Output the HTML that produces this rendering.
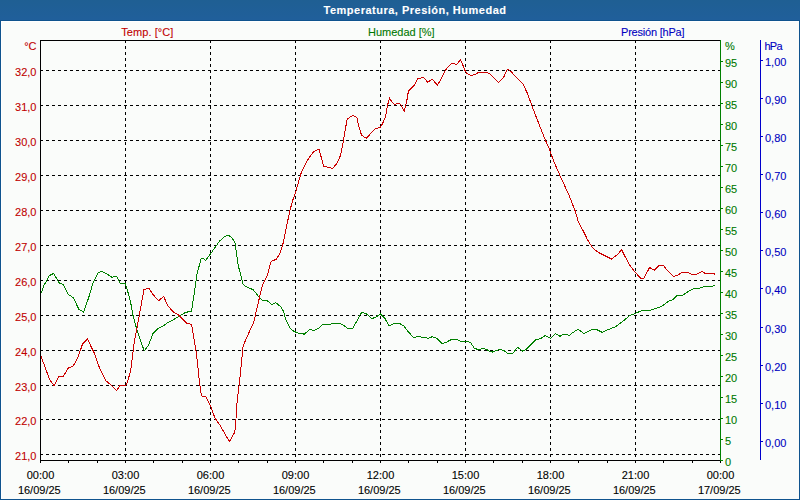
<!DOCTYPE html>
<html><head><meta charset="utf-8">
<style>
html,body{margin:0;padding:0;width:800px;height:500px;overflow:hidden;background:#FAFCFA;}
svg{display:block;}
text{font-family:"Liberation Sans",sans-serif;font-size:11px;stroke-width:0.1px;paint-order:stroke;}
</style></head><body>
<svg width="800" height="500" viewBox="0 0 800 500">
<g shape-rendering="crispEdges">
<rect x="0" y="0" width="800" height="500" fill="#FAFCFA"/>
<rect x="1" y="21" width="798" height="478" fill="none" stroke="#FFFFFF" stroke-width="1" transform="translate(0.5,0.5)" />
<defs><linearGradient id="tg" x1="0" y1="0" x2="0" y2="1"><stop offset="0" stop-color="#1F5F93"/><stop offset="1" stop-color="#205F9B"/></linearGradient></defs>
<rect x="0" y="0" width="800" height="20" fill="url(#tg)"/>
<rect x="0" y="20" width="800" height="1" fill="#0F538E"/>
<rect x="0" y="20" width="1" height="480" fill="#0F538E"/>
<rect x="799" y="20" width="1" height="480" fill="#0F538E"/>
<rect x="0" y="499" width="800" height="1" fill="#0F538E"/>
<line x1="40" y1="454.5" x2="720" y2="454.5" stroke="#000" stroke-dasharray="3 3"/>
<line x1="40" y1="419.5" x2="720" y2="419.5" stroke="#000" stroke-dasharray="3 3"/>
<line x1="40" y1="385.5" x2="720" y2="385.5" stroke="#000" stroke-dasharray="3 3"/>
<line x1="40" y1="350.5" x2="720" y2="350.5" stroke="#000" stroke-dasharray="3 3"/>
<line x1="40" y1="315.5" x2="720" y2="315.5" stroke="#000" stroke-dasharray="3 3"/>
<line x1="40" y1="280.5" x2="720" y2="280.5" stroke="#000" stroke-dasharray="3 3"/>
<line x1="40" y1="245.5" x2="720" y2="245.5" stroke="#000" stroke-dasharray="3 3"/>
<line x1="40" y1="210.5" x2="720" y2="210.5" stroke="#000" stroke-dasharray="3 3"/>
<line x1="40" y1="175.5" x2="720" y2="175.5" stroke="#000" stroke-dasharray="3 3"/>
<line x1="40" y1="140.5" x2="720" y2="140.5" stroke="#000" stroke-dasharray="3 3"/>
<line x1="40" y1="105.5" x2="720" y2="105.5" stroke="#000" stroke-dasharray="3 3"/>
<line x1="40" y1="70.5" x2="720" y2="70.5" stroke="#000" stroke-dasharray="3 3"/>
<line x1="125.5" y1="40" x2="125.5" y2="460" stroke="#000" stroke-dasharray="3 3"/>
<line x1="210.5" y1="40" x2="210.5" y2="460" stroke="#000" stroke-dasharray="3 3"/>
<line x1="295.5" y1="40" x2="295.5" y2="460" stroke="#000" stroke-dasharray="3 3"/>
<line x1="380.5" y1="40" x2="380.5" y2="460" stroke="#000" stroke-dasharray="3 3"/>
<line x1="465.5" y1="40" x2="465.5" y2="460" stroke="#000" stroke-dasharray="3 3"/>
<line x1="550.5" y1="40" x2="550.5" y2="460" stroke="#000" stroke-dasharray="3 3"/>
<line x1="635.5" y1="40" x2="635.5" y2="460" stroke="#000" stroke-dasharray="3 3"/>
<line x1="40" y1="40.5" x2="720" y2="40.5" stroke="#000"/>
<line x1="40.5" y1="40" x2="40.5" y2="463" stroke="#000"/>
<line x1="40" y1="460.5" x2="721" y2="460.5" stroke="#000"/>
<line x1="40.5" y1="460" x2="40.5" y2="463" stroke="#000"/>
<line x1="68.5" y1="460" x2="68.5" y2="463" stroke="#000"/>
<line x1="97.5" y1="460" x2="97.5" y2="463" stroke="#000"/>
<line x1="125.5" y1="460" x2="125.5" y2="463" stroke="#000"/>
<line x1="153.5" y1="460" x2="153.5" y2="463" stroke="#000"/>
<line x1="182.5" y1="460" x2="182.5" y2="463" stroke="#000"/>
<line x1="210.5" y1="460" x2="210.5" y2="463" stroke="#000"/>
<line x1="238.5" y1="460" x2="238.5" y2="463" stroke="#000"/>
<line x1="267.5" y1="460" x2="267.5" y2="463" stroke="#000"/>
<line x1="295.5" y1="460" x2="295.5" y2="463" stroke="#000"/>
<line x1="323.5" y1="460" x2="323.5" y2="463" stroke="#000"/>
<line x1="352.5" y1="460" x2="352.5" y2="463" stroke="#000"/>
<line x1="380.5" y1="460" x2="380.5" y2="463" stroke="#000"/>
<line x1="408.5" y1="460" x2="408.5" y2="463" stroke="#000"/>
<line x1="437.5" y1="460" x2="437.5" y2="463" stroke="#000"/>
<line x1="465.5" y1="460" x2="465.5" y2="463" stroke="#000"/>
<line x1="493.5" y1="460" x2="493.5" y2="463" stroke="#000"/>
<line x1="522.5" y1="460" x2="522.5" y2="463" stroke="#000"/>
<line x1="550.5" y1="460" x2="550.5" y2="463" stroke="#000"/>
<line x1="578.5" y1="460" x2="578.5" y2="463" stroke="#000"/>
<line x1="607.5" y1="460" x2="607.5" y2="463" stroke="#000"/>
<line x1="635.5" y1="460" x2="635.5" y2="463" stroke="#000"/>
<line x1="663.5" y1="460" x2="663.5" y2="463" stroke="#000"/>
<line x1="692.5" y1="460" x2="692.5" y2="463" stroke="#000"/>
<line x1="720.5" y1="460" x2="720.5" y2="463" stroke="#000"/>
<line x1="720.5" y1="40" x2="720.5" y2="461" stroke="#008000"/>
<line x1="721" y1="460.5" x2="723" y2="460.5" stroke="#008000"/>
<line x1="721" y1="439.5" x2="723" y2="439.5" stroke="#008000"/>
<line x1="721" y1="418.5" x2="723" y2="418.5" stroke="#008000"/>
<line x1="721" y1="397.5" x2="723" y2="397.5" stroke="#008000"/>
<line x1="721" y1="376.5" x2="723" y2="376.5" stroke="#008000"/>
<line x1="721" y1="355.5" x2="723" y2="355.5" stroke="#008000"/>
<line x1="721" y1="334.5" x2="723" y2="334.5" stroke="#008000"/>
<line x1="721" y1="313.5" x2="723" y2="313.5" stroke="#008000"/>
<line x1="721" y1="292.5" x2="723" y2="292.5" stroke="#008000"/>
<line x1="721" y1="271.5" x2="723" y2="271.5" stroke="#008000"/>
<line x1="721" y1="250.5" x2="723" y2="250.5" stroke="#008000"/>
<line x1="721" y1="229.5" x2="723" y2="229.5" stroke="#008000"/>
<line x1="721" y1="208.5" x2="723" y2="208.5" stroke="#008000"/>
<line x1="721" y1="187.5" x2="723" y2="187.5" stroke="#008000"/>
<line x1="721" y1="166.5" x2="723" y2="166.5" stroke="#008000"/>
<line x1="721" y1="145.5" x2="723" y2="145.5" stroke="#008000"/>
<line x1="721" y1="124.5" x2="723" y2="124.5" stroke="#008000"/>
<line x1="721" y1="103.5" x2="723" y2="103.5" stroke="#008000"/>
<line x1="721" y1="82.5" x2="723" y2="82.5" stroke="#008000"/>
<line x1="721" y1="61.5" x2="723" y2="61.5" stroke="#008000"/>
<line x1="760.5" y1="40" x2="760.5" y2="460" stroke="#0000CC"/>
<line x1="761" y1="441.5" x2="763" y2="441.5" stroke="#0000CC"/>
<line x1="761" y1="403.5" x2="763" y2="403.5" stroke="#0000CC"/>
<line x1="761" y1="365.5" x2="763" y2="365.5" stroke="#0000CC"/>
<line x1="761" y1="327.5" x2="763" y2="327.5" stroke="#0000CC"/>
<line x1="761" y1="288.5" x2="763" y2="288.5" stroke="#0000CC"/>
<line x1="761" y1="250.5" x2="763" y2="250.5" stroke="#0000CC"/>
<line x1="761" y1="212.5" x2="763" y2="212.5" stroke="#0000CC"/>
<line x1="761" y1="174.5" x2="763" y2="174.5" stroke="#0000CC"/>
<line x1="761" y1="136.5" x2="763" y2="136.5" stroke="#0000CC"/>
<line x1="761" y1="98.5" x2="763" y2="98.5" stroke="#0000CC"/>
<line x1="761" y1="60.5" x2="763" y2="60.5" stroke="#0000CC"/>
<polyline points="41.2,293.2 43.4,286.4 46.4,281.0 49.4,275.6 53.6,273.4 59.0,282.8 63.2,284.6 68.0,294.2 73.4,297.8 78.8,309.2 83.6,312.2 89.2,296.0 92.8,283.4 98.2,272.6 101.8,271.4 106.0,273.4 112.0,277.4 115.0,276.2 116.8,276.6 119.8,282.8 121.0,283.4 125.2,283.4 127.0,288.8 130.6,302.0 132.7,314.3 136.0,326.4 139.8,338.5 144.2,350.8 148.6,345.0 153.0,333.5 158.0,328.6 163.6,325.6 168.1,322.4 172.6,320.2 178.0,317.0 181.6,314.8 185.2,312.5 191.1,311.2 192.0,308.5 192.9,301.7 193.8,296.3 194.7,290.0 197.0,274.2 201.2,258.1 202.9,258.1 205.4,260.5 211.0,253.2 219.4,241.3 224.3,236.7 228.5,235.3 231.3,237.1 234.8,242.0 238.3,265.8 243.2,284.7 246.0,286.5 250.2,288.5 253.2,289.7 259.2,297.2 262.2,300.2 266.7,300.2 272.0,304.7 275.7,302.5 281.0,307.0 283.5,311.3 285.3,318.0 287.5,323.4 290.2,328.4 292.9,330.6 296.1,332.4 299.2,333.5 302.4,333.5 304.2,334.4 309.6,329.3 313.6,330.6 318.6,328.4 322.6,324.5 329.8,324.5 332.1,323.6 339.3,323.6 342.3,324.3 347.7,328.4 352.6,328.4 357.6,319.8 361.6,312.4 366.1,313.5 371.5,318.5 375.1,317.6 380.5,314.0 385.0,318.5 389.1,326.1 394.1,323.6 399.5,323.5 403.6,325.8 408.1,331.6 413.5,337.5 417.5,336.6 421.1,337.0 425.6,337.5 427.9,338.6 432.4,336.6 437.3,338.6 441.8,343.5 445.9,342.4 451.8,339.3 457.2,339.3 460.4,341.3 464.9,341.3 470.3,342.2 474.3,348.3 478.8,349.7 483.3,348.5 486.0,349.2 489.2,351.0 492.8,352.1 495.0,351.0 499.5,349.4 504.0,350.6 507.7,353.3 512.7,353.3 517.6,347.4 522.6,351.0 526.2,349.4 536.1,339.5 540.6,338.6 545.1,335.7 550.5,338.4 555.5,333.5 560.0,336.4 563.6,334.2 566.3,334.2 569.0,335.6 573.1,332.4 578.0,329.3 583.9,333.5 587.9,331.5 592.9,329.3 596.0,329.3 602.3,332.4 607.7,329.7 611.4,328.4 615.9,326.6 619.0,324.0 624.0,320.5 629.0,316.0 635.0,313.5 642.0,310.5 650.0,310.5 655.0,308.5 659.0,307.5 663.0,305.5 668.0,301.6 672.8,299.6 677.2,295.4 682.4,295.4 688.0,291.6 692.8,289.2 694.8,288.4 698.8,288.4 704.0,286.8 712.0,286.4 714.4,285.2" fill="none" stroke="#008000" stroke-width="1"/>
<polyline points="41.0,356.5 44.7,366.0 49.4,379.0 54.2,386.0 58.9,376.0 63.6,376.0 68.3,368.0 73.1,366.0 77.8,358.0 82.5,344.0 87.4,339.0 94.1,352.7 99.9,369.0 105.8,380.6 110.3,384.5 116.6,390.4 120.0,385.6 124.0,386.0 126.6,384.5 130.5,371.6 134.3,342.3 144.0,289.5 148.9,288.4 153.1,294.7 158.7,300.7 163.6,296.5 168.1,306.2 173.5,312.0 177.6,314.3 181.2,317.5 186.6,323.3 191.5,324.2 196.0,351.0 197.8,365.4 199.6,383.4 201.4,396.0 205.5,396.2 210.8,406.8 215.0,418.2 219.8,424.8 229.4,441.6 234.8,432.0 236.0,418.8 236.6,406.8 238.4,390.0 239.2,385.2 243.2,345.5 253.7,322.2 262.2,286.0 267.5,274.7 270.5,262.7 272.0,261.2 276.5,259.0 279.5,254.2 282.5,246.0 290.0,210.0 293.0,199.5 295.5,192.8 300.8,174.0 304.7,165.5 308.6,158.4 313.8,151.6 319.0,149.0 323.6,166.2 327.5,167.2 332.7,168.5 337.2,162.9 340.6,155.2 343.0,143.2 345.4,128.8 347.2,119.2 349.0,117.8 353.2,115.4 356.8,117.4 359.2,127.6 361.6,135.4 366.4,138.2 371.2,133.0 375.4,128.6 380.2,127.4 382.0,124.6 385.6,116.8 387.4,105.6 389.6,98.4 391.6,101.4 394.6,104.7 398.2,103.2 400.6,104.4 404.2,111.0 406.6,102.0 408.4,91.2 413.8,85.8 418.0,78.6 421.0,78.0 422.8,77.4 424.6,78.6 427.6,82.2 432.3,79.4 437.5,85.2 441.5,78.0 446.5,68.5 451.5,63.3 453.5,63.3 455.5,64.5 457.0,64.2 460.5,59.5 463.0,65.5 465.0,70.5 466.5,73.0 471.0,75.5 475.0,74.5 478.5,72.5 486.0,72.5 489.5,73.5 498.5,82.5 503.5,77.5 507.5,69.2 511.0,71.5 515.5,76.5 523.0,84.0 527.7,94.0 531.9,105.9 536.8,118.5 543.1,134.6 549.4,149.3 553.4,160.4 560.4,176.5 568.8,194.7 575.2,211.0 578.4,222.1 583.0,230.5 587.5,239.6 592.7,248.0 598.6,252.6 605.0,255.8 611.6,259.1 618.0,254.0 621.5,249.5 625.0,256.5 630.0,265.5 635.0,272.0 640.5,278.2 644.0,278.2 649.5,267.5 654.5,270.2 659.5,265.2 663.7,265.3 666.1,269.1 673.7,276.4 677.3,275.3 682.4,272.4 688.0,272.4 691.3,274.3 696.3,274.3 702.0,271.4 705.2,273.4 713.6,273.4 714.9,274.4" fill="none" stroke="#CC0000" stroke-width="1"/>
</g>
<g>
<text x="323.5" y="13.5" fill="#FFFFFF" stroke="#FFFFFF" font-weight="bold" textLength="182.5" lengthAdjust="spacing">Temperatura, Presión, Humedad</text>
<text x="121.3" y="36" fill="#C00000" stroke="#C00000" textLength="52" lengthAdjust="spacing">Temp. [°C]</text>
<text x="368" y="36" fill="#007800" stroke="#007800">Humedad [%]</text>
<text x="621" y="36" fill="#0000C0" stroke="#0000C0" textLength="63.5" lengthAdjust="spacing">Presión [hPa]</text>
<text x="36.5" y="50" fill="#C00000" stroke="#C00000" text-anchor="end">°C</text>
<text x="725" y="50" fill="#007800" stroke="#007800">%</text>
<text x="764.5" y="50" fill="#0000C0" stroke="#0000C0" textLength="18" lengthAdjust="spacing">hPa</text>
<text x="36.5" y="460" fill="#C00000" stroke="#C00000" text-anchor="end">21,0</text>
<text x="36.5" y="425" fill="#C00000" stroke="#C00000" text-anchor="end">22,0</text>
<text x="36.5" y="391" fill="#C00000" stroke="#C00000" text-anchor="end">23,0</text>
<text x="36.5" y="356" fill="#C00000" stroke="#C00000" text-anchor="end">24,0</text>
<text x="36.5" y="321" fill="#C00000" stroke="#C00000" text-anchor="end">25,0</text>
<text x="36.5" y="286" fill="#C00000" stroke="#C00000" text-anchor="end">26,0</text>
<text x="36.5" y="251" fill="#C00000" stroke="#C00000" text-anchor="end">27,0</text>
<text x="36.5" y="216" fill="#C00000" stroke="#C00000" text-anchor="end">28,0</text>
<text x="36.5" y="181" fill="#C00000" stroke="#C00000" text-anchor="end">29,0</text>
<text x="36.5" y="146" fill="#C00000" stroke="#C00000" text-anchor="end">30,0</text>
<text x="36.5" y="111" fill="#C00000" stroke="#C00000" text-anchor="end">31,0</text>
<text x="36.5" y="76" fill="#C00000" stroke="#C00000" text-anchor="end">32,0</text>
<text x="725" y="466" fill="#007800" stroke="#007800">0</text>
<text x="725" y="445" fill="#007800" stroke="#007800">5</text>
<text x="725" y="424" fill="#007800" stroke="#007800">10</text>
<text x="725" y="403" fill="#007800" stroke="#007800">15</text>
<text x="725" y="382" fill="#007800" stroke="#007800">20</text>
<text x="725" y="361" fill="#007800" stroke="#007800">25</text>
<text x="725" y="340" fill="#007800" stroke="#007800">30</text>
<text x="725" y="319" fill="#007800" stroke="#007800">35</text>
<text x="725" y="298" fill="#007800" stroke="#007800">40</text>
<text x="725" y="277" fill="#007800" stroke="#007800">45</text>
<text x="725" y="256" fill="#007800" stroke="#007800">50</text>
<text x="725" y="235" fill="#007800" stroke="#007800">55</text>
<text x="725" y="214" fill="#007800" stroke="#007800">60</text>
<text x="725" y="193" fill="#007800" stroke="#007800">65</text>
<text x="725" y="172" fill="#007800" stroke="#007800">70</text>
<text x="725" y="151" fill="#007800" stroke="#007800">75</text>
<text x="725" y="130" fill="#007800" stroke="#007800">80</text>
<text x="725" y="109" fill="#007800" stroke="#007800">85</text>
<text x="725" y="88" fill="#007800" stroke="#007800">90</text>
<text x="725" y="67" fill="#007800" stroke="#007800">95</text>
<text x="765" y="447" fill="#0000C0" stroke="#0000C0">0,00</text>
<text x="765" y="409" fill="#0000C0" stroke="#0000C0">0,10</text>
<text x="765" y="371" fill="#0000C0" stroke="#0000C0">0,20</text>
<text x="765" y="333" fill="#0000C0" stroke="#0000C0">0,30</text>
<text x="765" y="294" fill="#0000C0" stroke="#0000C0">0,40</text>
<text x="765" y="256" fill="#0000C0" stroke="#0000C0">0,50</text>
<text x="765" y="218" fill="#0000C0" stroke="#0000C0">0,60</text>
<text x="765" y="180" fill="#0000C0" stroke="#0000C0">0,70</text>
<text x="765" y="142" fill="#0000C0" stroke="#0000C0">0,80</text>
<text x="765" y="104" fill="#0000C0" stroke="#0000C0">0,90</text>
<text x="765" y="66" fill="#0000C0" stroke="#0000C0">1,00</text>
<text x="40.5" y="478.5" fill="#000000" stroke="#000000" text-anchor="middle">00:00</text>
<text x="39.3" y="493.5" fill="#000000" stroke="#000000" text-anchor="middle">16/09/25</text>
<text x="125.5" y="478.5" fill="#000000" stroke="#000000" text-anchor="middle">03:00</text>
<text x="124.3" y="493.5" fill="#000000" stroke="#000000" text-anchor="middle">16/09/25</text>
<text x="210.5" y="478.5" fill="#000000" stroke="#000000" text-anchor="middle">06:00</text>
<text x="209.3" y="493.5" fill="#000000" stroke="#000000" text-anchor="middle">16/09/25</text>
<text x="295.5" y="478.5" fill="#000000" stroke="#000000" text-anchor="middle">09:00</text>
<text x="294.3" y="493.5" fill="#000000" stroke="#000000" text-anchor="middle">16/09/25</text>
<text x="380.5" y="478.5" fill="#000000" stroke="#000000" text-anchor="middle">12:00</text>
<text x="379.3" y="493.5" fill="#000000" stroke="#000000" text-anchor="middle">16/09/25</text>
<text x="465.5" y="478.5" fill="#000000" stroke="#000000" text-anchor="middle">15:00</text>
<text x="464.3" y="493.5" fill="#000000" stroke="#000000" text-anchor="middle">16/09/25</text>
<text x="550.5" y="478.5" fill="#000000" stroke="#000000" text-anchor="middle">18:00</text>
<text x="549.3" y="493.5" fill="#000000" stroke="#000000" text-anchor="middle">16/09/25</text>
<text x="635.5" y="478.5" fill="#000000" stroke="#000000" text-anchor="middle">21:00</text>
<text x="634.3" y="493.5" fill="#000000" stroke="#000000" text-anchor="middle">16/09/25</text>
<text x="720.5" y="478.5" fill="#000000" stroke="#000000" text-anchor="middle">00:00</text>
<text x="719.3" y="493.5" fill="#000000" stroke="#000000" text-anchor="middle">17/09/25</text>
</g>
</svg>
</body></html>
